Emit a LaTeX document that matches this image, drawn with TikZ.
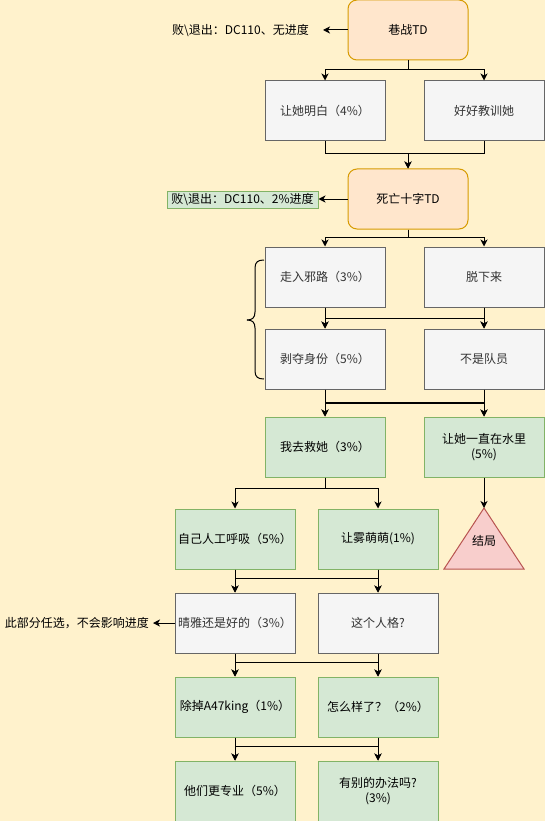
\documentclass[tikz,border=0pt]{standalone}
\usepackage{fontspec}
\newfontfamily\cjk{Noto Sans CJK SC}
\usetikzlibrary{arrows.meta,calc}
\definecolor{bgc}{HTML}{FFF2CC}
\definecolor{orfill}{HTML}{FFE6CC}
\definecolor{ordraw}{HTML}{D79B00}
\definecolor{grfill}{HTML}{F5F5F5}
\definecolor{grdraw}{HTML}{666666}
\definecolor{grtext}{HTML}{333333}
\definecolor{gnfill}{HTML}{D5E8D4}
\definecolor{gndraw}{HTML}{82B366}
\definecolor{rdfill}{HTML}{F8CECC}
\definecolor{rddraw}{HTML}{B85450}
\tikzset{
  boxbase/.style={rectangle, minimum width=120pt, minimum height=60pt, inner sep=2pt, line width=1pt, align=center},
  orangebox/.style={boxbase, rounded corners=9pt, fill=orfill, draw=ordraw, text=black},
  greybox/.style={boxbase, fill=grfill, draw=grdraw, text=grtext},
  greenbox/.style={boxbase, fill=gnfill, draw=gndraw, text=black},
  sidelbl/.style={inner sep=0pt, text=black},
  arr/.style={line width=1pt, -{Stealth[length=7pt,width=7pt,inset=2pt]}},
  lnk/.style={line width=1pt},
}
\begin{document}
\begin{tikzpicture}[x=1pt,y=-1pt,font=\cjk\fontsize{12}{15}\selectfont]
\useasboundingbox (0,0) rectangle (545,821);
\fill[bgc] (0,0) rectangle (545,821);
\clip (0,0) rectangle (545,821);

% nodes
\node[orangebox] (t0) at (408,30) {巷战TD};
\node[greybox] (r1a) at (325,111) {让她明白（4\%）};
\node[greybox] (r1b) at (484,111) {好好教训她};
\node[orangebox] (t1) at (408,199) {死亡十字TD};
\node[greybox] (r3a) at (325,277) {走入邪路（3\%）};
\node[greybox] (r3b) at (484,277) {脱下来};
\node[greybox] (r4a) at (325,359) {剥夺身份（5\%）};
\node[greybox] (r4b) at (484,359) {不是队员};
\node[greenbox] (r5a) at (325,447) {我去救她（3\%）};
\node[greenbox] (r5b) at (484,447) {让她一直在水里\\(5\%)};
\node[greenbox] (r6a) at (235,539) {自己人工呼吸（5\%）};
\node[greenbox] (r6b) at (378,539) {让雾萌萌(1\%)};
\fill[rdfill] (484,508) -- (524,569) -- (444,569) -- cycle;
\draw[rddraw, line width=1pt, line join=miter] (484,508) -- (524,569) -- (444,569) -- cycle;
\coordinate (triapex) at (484,508);
\node[text=black, inner sep=0pt] (tri) at (484,541) {结局};
\node[greybox] (r7a) at (235,623) {晴雅还是好的（3\%）};
\node[greybox] (r7b) at (378,623) {这个人格?};
\node[greenbox] (r8a) at (235,707) {除掉A47king（1\%）};
\node[greenbox] (r8b) at (378,707) {怎么样了？（2\%）};
\node[greenbox] (r9a) at (235,791) {他们更专业（5\%）};
\node[greenbox] (r9b) at (378,791) {有别的办法吗?\\(3\%)};

% side labels
\node[sidelbl, anchor=east] (l1) at (309,31) {败\textbackslash 退出：DC110、无进度};
\node[rectangle, fill=gnfill, draw=gndraw, line width=1pt, minimum width=151pt, minimum height=17pt, inner sep=0pt, text=black] (l2) at (242.5,199.5) {败\textbackslash 退出：DC110、2\%进度};
\node[sidelbl, anchor=east] (l3) at (149,623) {此部分任选，不会影响进度};

\draw[arr, shorten >=14pt] (t0.west) -- (t0.west -| l1.east);
\draw[arr] (t1.west) -- (t1.west -| l2.east);
\draw[arr, shorten >=4pt] (r7a.west) -- (r7a.west -| l3.east);

% junction coordinates
\coordinate (j0) at (408,70);
\coordinate (j1) at (408,154);
\coordinate (j2) at (408,237);
\coordinate (j3a) at (325,318);
\coordinate (j3b) at (484,318);
\coordinate (j4a) at (325,403);
\coordinate (j4b) at (484,403);
\coordinate (j5) at (325,488);
\coordinate (j6a) at (235,578);
\coordinate (j6b) at (378,578);
\coordinate (j7a) at (235,662);
\coordinate (j7b) at (378,662);
\coordinate (j8a) at (235,746);
\coordinate (j8b) at (378,746);

% connectors
\draw[arr] (t0.south) -- (j0) -| (r1a.north);
\draw[arr] (t0.south) -- (j0) -| (r1b.north);
\draw[arr] (r1a.south) |- (j1) -- (t1.north);
\draw[arr] (r1b.south) |- (j1) -- (t1.north);
\draw[arr] (t1.south) -- (j2) -| (r3a.north);
\draw[arr] (t1.south) -- (j2) -| (r3b.north);

\draw[arr] (r3a.south) -- (r4a.north);
\draw[arr] (r3a.south) |- (j3b) -- (r4b.north);
\draw[arr] (r3b.south) -- (r4b.north);
\draw[arr] (r3b.south) |- (j3a) -- (r4a.north);

\draw[arr] (r4a.south) -- (r5a.north);
\draw[arr] (r4a.south) |- (j4b) -- (r5b.north);
\draw[arr] (r4b.south) -- (r5b.north);
\draw[arr] (r4b.south) |- (j4a) -- (r5a.north);
\draw[line width=2pt] (j4a) -- (j4b);

\draw[arr] (r5a.south) -- (j5) -| (r6a.north);
\draw[arr] (r5a.south) -- (j5) -| (r6b.north);
\draw[arr] (r5b.south) -- (triapex);

\draw[arr] (r6a.south) -- (r7a.north);
\draw[arr] (r6a.south) |- (j6b) -- (r7b.north);
\draw[arr] (r6b.south) -- (r7b.north);
\draw[arr] (r6b.south) |- (j6a) -- (r7a.north);

\draw[arr] (r7a.south) -- (r8a.north);
\draw[arr] (r7a.south) |- (j7b) -- (r8b.north);
\draw[arr] (r7b.south) -- (r8b.north);
\draw[arr] (r7b.south) |- (j7a) -- (r8a.north);

\draw[arr] (r8a.south) -- (r9a.north);
\draw[arr] (r8a.south) |- (j8b) -- (r9b.north);
\draw[arr] (r8b.south) -- (r9b.north);
\draw[arr] (r8b.south) |- (j8a) -- (r9a.north);

% brace
\draw[line width=1pt] (264,260) .. controls (258,260) and (255,262) .. (255,268) -- (255,312) .. controls (255,318) and (252,320) .. (247,320);
\draw[line width=1pt] (247,320) .. controls (252,320) and (255,322) .. (255,328) -- (255,371) .. controls (255,377) and (258,379) .. (264,379);
\end{tikzpicture}
\end{document}
